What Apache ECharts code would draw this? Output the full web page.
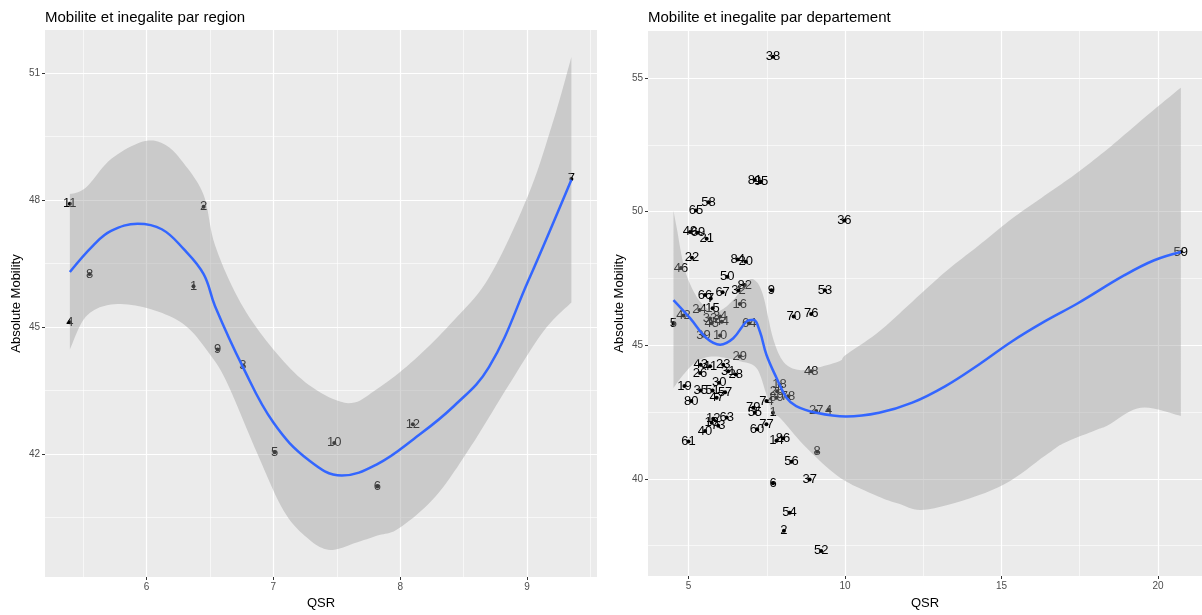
<!DOCTYPE html>
<html>
<head>
<meta charset="utf-8">
<title>Mobilite et inegalite</title>
<script src="https://cdn.jsdelivr.net/npm/echarts@6/dist/echarts.min.js"></script>
<style>
  html, body { margin: 0; padding: 0; background: #ffffff; }
  #chart { width: 1202px; height: 615px; }
</style>
</head>
<body>
<div id="chart"></div>
<script>
// ---- Regions: points ----
const regionLabels   = ['11', '8', '4', '1', '2', '9', '3', '5', '10', '6', '12', '7'];
const regionQSR      = [5.395, 5.55, 5.395, 6.37, 6.45, 6.56, 6.76, 7.01, 7.48, 7.82, 8.10, 9.35];
const regionMobility = [47.91, 46.25, 45.11, 45.96, 47.84, 44.47, 44.09, 42.04, 42.26, 41.23, 42.70, 48.50];

// ---- Regions: loess fit and its confidence band ----
const regionFitQSR      = [5.395, 5.58, 5.72, 5.93, 6.12, 6.29, 6.45, 6.54, 6.76, 7.00, 7.28, 7.54, 7.82, 8.11, 8.42, 8.70, 9.01, 9.35];
const regionFitMobility = [46.30, 46.93, 47.27, 47.44, 47.31, 46.85, 46.25, 45.49, 44.05, 42.74, 41.85, 41.49, 41.76, 42.36, 43.12, 44.05, 46.09, 48.48];
const regionUpperQSR    = [5.395, 5.52, 5.72, 5.98, 6.15, 6.29, 6.45, 6.54, 6.74, 7.00, 7.28, 7.59, 7.82, 8.11, 8.42, 8.70, 9.01, 9.21, 9.35];
const regionUpper       = [48.14, 48.29, 48.97, 49.39, 49.30, 48.88, 48.12, 46.93, 45.58, 44.47, 43.63, 43.20, 43.54, 44.22, 45.15, 46.17, 48.12, 49.90, 51.38];
const regionLowerQSR    = [5.395, 5.52, 5.72, 6.00, 6.29, 6.49, 6.63, 6.86, 7.08, 7.28, 7.45, 7.65, 7.82, 7.99, 8.28, 8.56, 8.84, 9.13, 9.35];
const regionLower       = [44.47, 45.24, 45.53, 45.45, 45.07, 44.39, 43.71, 42.10, 40.66, 39.98, 39.73, 39.90, 40.07, 40.24, 41.00, 42.19, 43.55, 44.90, 45.58];

// ---- Departements: points ----
const deptLabels = ['38', '81', '95', '58', '65', '36', '49', '69', '21', '22', '46', '84', '20', '50', '82', '32', '9', '53',
  '67', '66', '7', '16', '24', '15', '70', '76', '5', '42', '33', '34', '45', '44', '64', '39', '10', '29', '48', '43',
  '41', '23', '26', '31', '28', '19', '35', '30', '51', '57', '47', '80', '79', '74', '89', '78', '18', '25', '55', '1',
  '27', '4', '12', '63', '13', '40', '73', '60', '77', '61', '14', '86', '8', '56', '37', '6', '54', '2', '52', '59'];
const deptQSR = [7.70, 7.12, 7.32, 5.64, 5.24, 9.98, 5.05, 5.30, 5.58, 5.11, 4.76, 6.57, 6.83, 6.24, 6.80, 6.60, 7.65, 9.36,
  6.09, 5.53, 5.71, 6.64, 5.35, 5.77, 8.36, 8.92, 4.52, 4.84, 5.69, 6.01, 5.74, 6.06, 6.94, 5.48, 6.01, 6.64, 8.92, 5.39,
  5.69, 6.11, 5.37, 6.27, 6.51, 4.87, 5.39, 5.98, 5.77, 6.17, 5.90, 5.09, 7.07, 7.49, 7.81, 8.18, 7.91, 7.83, 7.12, 7.70,
  9.08, 9.48, 5.79, 6.22, 5.74, 5.53, 5.95, 7.19, 7.49, 5.00, 7.81, 8.02, 9.11, 8.29, 8.87, 7.70, 8.23, 8.05, 9.24, 20.73];
const deptMobility = [55.80, 51.18, 51.12, 50.35, 50.04, 49.67, 49.24, 49.21, 48.98, 48.27, 47.89, 48.21, 48.12, 47.56, 47.25, 47.05, 47.06, 47.06,
  46.98, 46.88, 46.75, 46.54, 46.32, 46.38, 46.07, 46.17, 45.80, 46.11, 46.00, 46.07, 45.82, 45.88, 45.82, 45.36, 45.36, 44.58, 44.02, 44.27,
  44.21, 44.27, 43.96, 44.02, 43.90, 43.47, 43.30, 43.59, 43.30, 43.24, 43.03, 42.91, 42.66, 42.91, 43.03, 43.09, 43.53, 43.28, 42.47, 42.47,
  42.54, 42.57, 42.25, 42.29, 42.10, 41.79, 41.98, 41.85, 42.04, 41.39, 41.42, 41.52, 41.01, 40.64, 39.97, 39.83, 38.73, 38.05, 37.30, 48.49];

// ---- Departements: loess fit and its confidence band ----
const deptFitQSR      = [4.52, 5.05, 5.58, 6.01, 6.43, 6.86, 7.07, 7.28, 7.49, 7.81, 8.13, 8.44, 9.08, 10.03, 11.09, 12.15, 13.21, 14.27, 15.33, 16.38, 17.44, 18.93, 19.88, 20.73];
const deptFitMobility = [46.69, 46.01, 45.26, 45.02, 45.26, 45.89, 45.95, 45.51, 44.64, 43.78, 43.03, 42.72, 42.47, 42.33, 42.47, 42.85, 43.47, 44.27, 45.14, 45.89, 46.57, 47.62, 48.18, 48.49];
const deptUpperQSR    = [4.52, 4.63, 4.90, 5.37, 5.90, 6.43, 6.86, 7.12, 7.38, 7.70, 8.02, 8.44, 8.97, 9.82, 10.03, 11.09, 12.15, 13.21, 14.27, 15.33, 16.38, 17.44, 18.50, 19.60, 20.73];
const deptUpper       = [50.04, 49.35, 47.75, 46.63, 46.26, 46.69, 47.37, 47.43, 46.88, 45.26, 44.40, 44.09, 44.12, 44.40, 44.64, 45.51, 46.63, 47.75, 48.73, 49.73, 50.60, 51.47, 52.45, 53.55, 54.64];
const deptLowerQSR    = [4.52, 4.84, 5.27, 5.79, 6.43, 6.64, 7.17, 7.49, 7.70, 7.92, 8.76, 9.82, 10.88, 11.73, 12.68, 14.90, 16.49, 17.02, 18.08, 18.40, 19.45, 20.73];
const deptLower       = [43.40, 43.90, 44.40, 44.58, 44.46, 44.40, 44.15, 43.15, 42.41, 42.28, 41.17, 40.06, 39.43, 39.06, 38.86, 39.68, 40.95, 41.35, 41.85, 42.00, 42.66, 42.35];

// ---- Axis breaks ----
const regionTicksX = [6, 7, 8, 9];
const regionMinorX = [5.5, 6.5, 7.5, 8.5, 9.5];
const regionTicksY = [42, 45, 48, 51];
const regionMinorY = [40.5, 43.5, 46.5, 49.5];
const deptTicksX = [5, 10, 15, 20];
const deptMinorX = [7.5, 12.5, 17.5];
const deptTicksY = [40, 45, 50, 55];
const deptMinorY = [37.5, 42.5, 47.5, 52.5];

const FONT = 'Liberation Sans, Arial, sans-serif';
const zip = (xs, ys) => xs.map((x, i) => [x, ys[i]]);

function majorAxis(grid, min, max, ticks, extra) {
  return Object.assign({
    type: 'value', gridIndex: grid, min: min, max: max,
    axisLine: { show: false },
    axisTick: { show: true, inside: false, length: 3, customValues: ticks,
                lineStyle: { color: '#333333', width: 1 } },
    axisLabel: { show: true, customValues: ticks, margin: 5, color: '#4D4D4D',
                 fontSize: 10, fontFamily: FONT },
    splitLine: { show: true, lineStyle: { color: '#FFFFFF', width: 1.2 } },
    minorTick: { show: false }, minorSplitLine: { show: false }
  }, extra || {});
}

function minorAxis(grid, min, max, ticks) {
  return {
    type: 'value', gridIndex: grid, min: min, max: max,
    axisLine: { show: false },
    axisTick: { show: false, customValues: ticks },
    axisLabel: { show: false, customValues: ticks },
    splitLine: { show: true, lineStyle: { color: '#FFFFFF', width: 0.6 } }
  };
}

// Rounds an edge of the band in screen space (Catmull-Rom), keeping its end points.
function roundEdge(pts, steps) {
  const out = [];
  const n = pts.length;
  for (let i = 0; i < n - 1; i++) {
    const p0 = pts[Math.max(i - 1, 0)], p1 = pts[i], p2 = pts[i + 1], p3 = pts[Math.min(i + 2, n - 1)];
    for (let k = 0; k < steps; k++) {
      const t = k / steps, t2 = t * t, t3 = t2 * t;
      const f = (a, b, c, d) => 0.5 * (2 * b + (-a + c) * t + (2 * a - 5 * b + 4 * c - d) * t2 + (-a + 3 * b - 3 * c + d) * t3);
      out.push([f(p0[0], p1[0], p2[0], p3[0]), f(p0[1], p1[1], p2[1], p3[1])]);
    }
  }
  out.push(pts[n - 1]);
  return out;
}

// Confidence band: upper edge left to right, then lower edge back, straight ends.
function ribbon(xi, yi, upX, up, lowX, low) {
  return {
    type: 'custom', xAxisIndex: xi, yAxisIndex: yi, z: 3, silent: true,
    data: [[upX[0], up[0]]],
    renderItem: function (params, api) {
      const upper = roundEdge(upX.map((x, i) => api.coord([x, up[i]])), 10);
      const lower = roundEdge(lowX.map((x, i) => api.coord([x, low[i]])), 10).reverse();
      return {
        type: 'polygon',
        shape: { points: upper.concat(lower) },
        style: { fill: '#999999', stroke: null, opacity: 0.4 }
      };
    }
  };
}

function fitLine(xi, yi, xs, ys) {
  return {
    type: 'line', xAxisIndex: xi, yAxisIndex: yi, z: 4, silent: true,
    data: zip(xs, ys), smooth: 0.4, showSymbol: false, symbol: 'none',
    lineStyle: { color: '#3366FF', width: 2.5 }
  };
}

function labelledPoints(xi, yi, xs, ys, labels) {
  return {
    type: 'scatter', xAxisIndex: xi, yAxisIndex: yi, z: 2, silent: true,
    data: xs.map((x, i) => [x, ys[i], labels[i]]),
    symbolSize: 4, itemStyle: { color: '#000000', opacity: 1 },
    label: { show: true, position: 'inside', formatter: p => p.data[2],
             color: '#000000', fontSize: 13, fontFamily: FONT }
  };
}

const chart = echarts.init(document.getElementById('chart'), null, { renderer: 'canvas' });

chart.setOption({
  animation: false,
  backgroundColor: '#FFFFFF',
  title: [
    { text: 'Mobilite et inegalite par region', left: 45, top: 10, padding: 0,
      textStyle: { fontFamily: FONT, fontSize: 15, fontWeight: 'normal', color: '#000000' } },
    { text: 'Mobilite et inegalite par departement', left: 648, top: 10, padding: 0,
      textStyle: { fontFamily: FONT, fontSize: 15, fontWeight: 'normal', color: '#000000' } }
  ],
  grid: [
    { left: 45, top: 30, width: 552, height: 547, show: true, backgroundColor: '#EBEBEB', borderWidth: 0 },
    { left: 648, top: 31, width: 554, height: 548.5, show: true, backgroundColor: '#EBEBEB', borderWidth: 0 }
  ],
  xAxis: [
    majorAxis(0, 5.199, 9.552, regionTicksX, {
      name: 'QSR', nameLocation: 'middle', nameGap: 12,
      nameTextStyle: { fontFamily: FONT, fontSize: 13, color: '#000000' } }),
    minorAxis(0, 5.199, 9.552, regionMinorX),
    majorAxis(1, 3.706, 21.406, deptTicksX, {
      name: 'QSR', nameLocation: 'middle', nameGap: 21,
      nameTextStyle: { fontFamily: FONT, fontSize: 13, color: '#000000' } }),
    minorAxis(1, 3.706, 21.406, deptMinorX)
  ],
  yAxis: [
    majorAxis(0, 39.09, 52.02, regionTicksY, {
      name: 'Absolute Mobility', nameLocation: 'middle', nameGap: 22,
      nameTextStyle: { fontFamily: FONT, fontSize: 13, color: '#000000' } }),
    minorAxis(0, 39.09, 52.02, regionMinorY),
    majorAxis(1, 36.36, 56.76, deptTicksY, {
      name: 'Absolute Mobility', nameLocation: 'middle', nameGap: 22,
      nameTextStyle: { fontFamily: FONT, fontSize: 13, color: '#000000' } }),
    minorAxis(1, 36.36, 56.76, deptMinorY)
  ],
  series: [
    labelledPoints(0, 0, regionQSR, regionMobility, regionLabels),
    ribbon(0, 0, regionUpperQSR, regionUpper, regionLowerQSR, regionLower),
    fitLine(0, 0, regionFitQSR, regionFitMobility),
    labelledPoints(2, 2, deptQSR, deptMobility, deptLabels),
    ribbon(2, 2, deptUpperQSR, deptUpper, deptLowerQSR, deptLower),
    fitLine(2, 2, deptFitQSR, deptFitMobility)
  ]
});
</script>
</body>
</html>
